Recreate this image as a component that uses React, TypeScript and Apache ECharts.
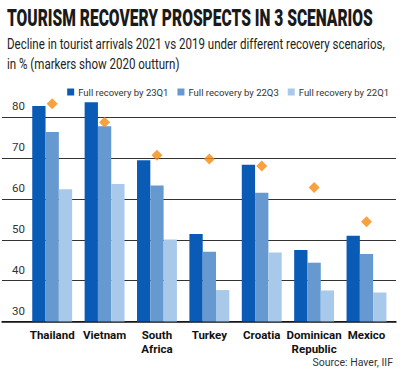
import React, { useEffect, useRef } from "react";
import * as echarts from "echarts";

const categories = ["Thailand", "Vietnam", "South\nAfrica", "Turkey", "Croatia", "Dominican\nRepublic", "Mexico"];
const seriesNames = ["Full recovery by 23Q1", "Full recovery by 22Q3", "Full recovery by 22Q1"];
const recovery23Q1 = [82.8, 83.7, 69.5, 51.4, 68.4, 47.5, 51.0];
const recovery22Q3 = [76.4, 77.8, 63.3, 47.1, 61.5, 44.4, 46.5];
const recovery22Q1 = [62.4, 63.7, 50.1, 37.7, 46.9, 37.6, 37.1];
const outturn2020 = [83.3, 78.8, 70.7, 69.8, 68.1, 62.8, 54.4];
const yTicks = [30, 40, 50, 60, 70, 80];

const titleText = "TOURISM RECOVERY PROSPECTS IN 3 SCENARIOS";
const subtitle1 = "Decline in tourist arrivals 2021 vs 2019 under different recovery scenarios,";
const subtitle2 = "in % (markers show 2020 outturn)";
const sourceText = "Source: Haver, IIF";

const FONT = 'Roboto, "Liberation Sans", sans-serif';
const COLORS = ["#0A5BB5", "#6699D0", "#A9C9EA"];

function measure(text: string, font: string): number {
  const c = document.createElement("canvas").getContext("2d");
  if (!c) return 1;
  c.font = font;
  return c.measureText(text).width || 1;
}

export default function App() {
  const ref = useRef<HTMLDivElement>(null);
  useEffect(() => {
    if (!ref.current) return;
    const chart = echarts.init(ref.current, undefined, { renderer: "svg" });
    const titleFont = `900 23px ${FONT}`;
    const subFont = `15.5px ${FONT}`;
    const titleScale = 366 / measure(titleText, titleFont);
    const subScale = 378 / measure(subtitle1, subFont);

    const barSeries = [recovery23Q1, recovery22Q3, recovery22Q1].map((d, i) => ({
      name: seriesNames[i],
      type: "bar",
      xAxisIndex: 1,
      yAxisIndex: 1,
      data: d,
      barWidth: 13.3,
      barGap: "0%",
      itemStyle: { color: COLORS[i] },
      silent: true,
    }));

    chart.setOption({
      animation: false,
      backgroundColor: "#ffffff",
      textStyle: { fontFamily: FONT },
      graphic: [
        {
          type: "text",
          left: 7,
          top: 7,
          scaleX: titleScale,
          style: { text: titleText, font: titleFont, fill: "#1a1a1a" },
        },
        {
          type: "text",
          left: 7,
          top: 35,
          scaleX: subScale,
          style: { text: subtitle1, font: subFont, fill: "#222" },
        },
        {
          type: "text",
          left: 7,
          top: 55,
          scaleX: subScale,
          style: { text: subtitle2, font: subFont, fill: "#222" },
        },
        {
          type: "text",
          right: 7,
          top: 357,
          style: { text: sourceText, font: `10.5px ${FONT}`, fill: "#333" },
        },
      ],
      legend: {
        data: seriesNames,
        right: 6,
        top: 82,
        itemWidth: 7,
        itemHeight: 7,
        itemGap: 9,
        icon: "rect",
        textStyle: { fontSize: 9.5, color: "#333", fontFamily: FONT, padding: [0, 0, 0, -1] },
      },
      grid: [
        { left: 2, right: 4, top: 117.3, bottom: 51.5 },
        { left: 26, right: 7.3, top: 96.9, bottom: 51.5 },
      ],
      xAxis: [
        {
          gridIndex: 0,
          type: "category",
          data: categories,
          axisLine: { show: true, lineStyle: { color: "#111", width: 1.5 } },
          axisTick: { show: false },
          axisLabel: { show: false },
        },
        {
          gridIndex: 1,
          type: "category",
          data: categories,
          axisLine: { show: false },
          axisTick: { show: false },
          axisLabel: {
            margin: 6,
            fontSize: 11.5,
            fontWeight: "bold",
            color: "#111",
            lineHeight: 14,
            fontFamily: FONT,
            interval: 0,
          },
        },
      ],
      yAxis: [
        {
          gridIndex: 0,
          type: "value",
          min: yTicks[0],
          max: yTicks[yTicks.length - 1],
          interval: 10,
          axisLine: { show: false },
          axisTick: { show: false },
          splitLine: { lineStyle: { color: "#333", width: 1 } },
          axisLabel: {
            inside: true,
            margin: 10,
            verticalAlign: "bottom",
            padding: [0, 0, 5, 0],
            fontSize: 11.5,
            color: "#333",
            fontFamily: FONT,
          },
        },
        {
          gridIndex: 1,
          type: "value",
          min: 30,
          max: 85,
          show: false,
          splitLine: { show: false },
        },
      ],
      series: [
        ...barSeries,
        {
          name: "2020 outturn",
          type: "scatter",
          xAxisIndex: 1,
          yAxisIndex: 1,
          symbol: "diamond",
          symbolSize: [11, 11],
          data: outturn2020,
          itemStyle: { color: "#F5890F" },
          z: 5,
          silent: true,
        },
      ],
    });
    return () => chart.dispose();
  }, []);
  return <div ref={ref} style={{ position: "fixed", left: 0, top: 0, width: 400, height: 373 }} />;
}
